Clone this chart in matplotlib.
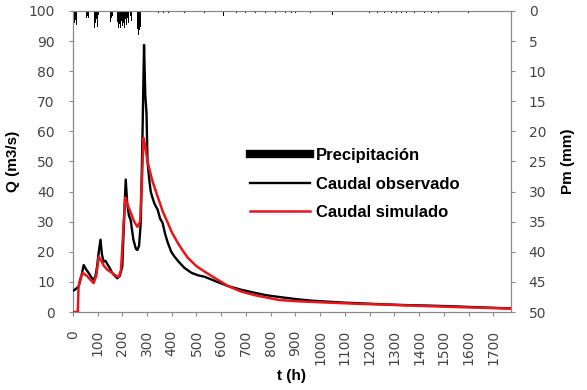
import matplotlib
matplotlib.use("Agg")
import matplotlib.pyplot as plt
from matplotlib.lines import Line2D

# observed discharge (h, m3/s)
obs_t = [0, 10, 23, 35, 44, 55, 64, 75, 84, 92, 98, 105, 112, 118, 125, 132, 139,
         150, 159, 170, 180, 190, 200, 207, 214, 220, 227, 234, 245, 255, 261, 268,
         275, 282, 288, 293, 298, 302, 309, 315, 322, 330, 343, 353, 363, 373, 384,
         398, 411, 430, 452, 480, 506, 533, 560, 590, 628, 680, 740, 780, 833, 900,
         960, 1037, 1100, 1159, 1240, 1343, 1450, 1567, 1660, 1770]
obs_q = [7, 7.5, 8.4, 12, 15.6, 14, 13, 11.5, 10.6, 12, 15, 20, 24, 19, 16.7, 17, 16,
         14.5, 13, 12, 11.2, 12, 15, 30, 44, 36, 32, 30.5, 24, 21, 20.6, 22,
         30, 60, 88.7, 72, 66, 50, 44, 40, 38, 36, 34, 31, 29.6, 26, 23,
         20, 18.4, 16.5, 14.6, 13, 12.2, 11.7, 10.8, 9.8, 8.6, 7.4, 6.3, 5.6, 5.0, 4.3,
         3.8, 3.4, 3.1, 2.9, 2.6, 2.3, 2.1, 1.8, 1.5, 1.2]

# simulated discharge (h, m3/s)
sim_t = [0, 20, 23, 30, 40, 57, 70, 84, 95, 105, 115, 125, 140, 159, 175, 186, 195,
         207, 212, 220, 234, 248, 261, 272, 280, 286, 293, 302, 320, 343, 363, 384,
         400, 424, 445, 465, 500, 533, 560, 588, 628, 680, 740, 833, 900, 1037, 1159,
         1241, 1343, 1450, 1567, 1660, 1770]
sim_q = [0, 0, 8, 11, 13, 12, 10.8, 9.6, 12, 18.4, 17, 15.4, 14, 13, 12, 11.6, 14,
         31.7, 38, 36, 33, 30, 28.3, 30, 45, 57.8, 55, 50, 44, 38.3, 33.5, 29.6,
         26.5, 23, 20.3, 18, 15.2, 13.4, 12, 10.6, 8.6, 6.8, 5.5, 4.0, 3.6, 3.1, 2.7,
         2.5, 2.2, 1.9, 1.6, 1.4, 1.1]

# precipitation (h, mm)
rain_t = [4, 8, 12, 16, 57, 61, 65, 86, 90, 94, 98, 104, 151, 155, 159, 180, 184,
          188, 192, 196, 200, 204, 208, 212, 216, 220, 225, 233, 237, 261, 265, 269,
          273, 345, 365, 385, 453, 534, 608, 660, 700, 740, 780, 820, 860, 886,
          900, 960, 1049, 1200, 1230, 1260, 1290, 1310, 1330, 1350, 1380, 1420,
          1450, 1480, 1600]
rain_mm = [2.8, 2.0, 1.5, 2.4, 1.2, 0.8, 1.1, 2.8, 2.0, 1.4, 2.6, 0.6, 1.8, 1.2, 0.8,
           1.8, 2.8, 2.2, 2.9, 1.6, 2.5, 2.0, 2.8, 1.4, 2.3, 1.2, 2.0, 0.9, 1.7, 3.0,
           4.0, 3.2, 2.6, 0.3, 0.3, 0.3, 0.3, 0.3, 0.8, 0.3, 0.3, 0.3, 0.3, 0.3, 0.3,
           0.3, 0.3, 0.3, 0.6, 0.3, 0.3, 0.3, 0.3, 0.4, 0.4, 0.3, 0.3, 0.3, 0.3, 0.3,
           0.3]

x_ticks = list(range(0, 1800, 100))
q_ticks = list(range(0, 101, 10))
pm_ticks = list(range(0, 51, 5))

grey = "#8a8a8a"
tick_col = "#444444"

fig = plt.figure(figsize=(5.87, 3.9), dpi=100)
ax = fig.add_axes([0.124, 0.2, 0.746, 0.772])
ax2 = ax.twinx()

ax2.bar(rain_t, rain_mm, width=4, color="black", zorder=2)
ax2.set_ylim(50, 0)
ax2.set_yticks(pm_ticks)

ax.plot(obs_t, obs_q, color="black", lw=1.7, zorder=3)
ax.plot(sim_t, sim_q, color="#e8161b", lw=1.8, zorder=4)
ax.set_zorder(ax2.get_zorder() + 1)
ax.patch.set_visible(False)

ax.set_xlim(0, 1770)
ax.set_ylim(0, 100)
ax.set_xticks(x_ticks)
ax.set_xticklabels([str(v) for v in x_ticks], rotation=90)
ax.set_yticks(q_ticks)

for a in (ax, ax2):
    for s in a.spines.values():
        s.set_color(grey)
    a.tick_params(colors=grey, labelcolor=tick_col, labelsize=10, length=3,
                  direction="out", pad=10)

ax.set_ylabel("Q (m3/s)", fontsize=11, fontweight="bold", family="Liberation Sans")
ax2.set_ylabel("Pm (mm)", fontsize=11, fontweight="bold", family="Liberation Sans")
ax.set_xlabel("t (h)", fontsize=11, fontweight="bold", family="Liberation Sans")
ax.yaxis.set_label_coords(-0.121, 0.5)
ax2.yaxis.set_label_coords(1.116, 0.5)
ax.xaxis.set_label_coords(0.5, -0.19)

handles = [Line2D([], [], color="black", lw=6),
           Line2D([], [], color="black", lw=1.7),
           Line2D([], [], color="#e8161b", lw=1.8)]
labels = ["Precipitación", "Caudal observado", "Caudal simulado"]
ax.legend(handles, labels, loc="center left", bbox_to_anchor=(0.404, 0.425), frameon=False,
          handlelength=3.6, handletextpad=0.4, labelspacing=0.8, borderpad=0,
          borderaxespad=0,
          prop={"family": "Liberation Sans", "weight": "bold", "size": 12})

fig.savefig("out.png", dpi=100)
